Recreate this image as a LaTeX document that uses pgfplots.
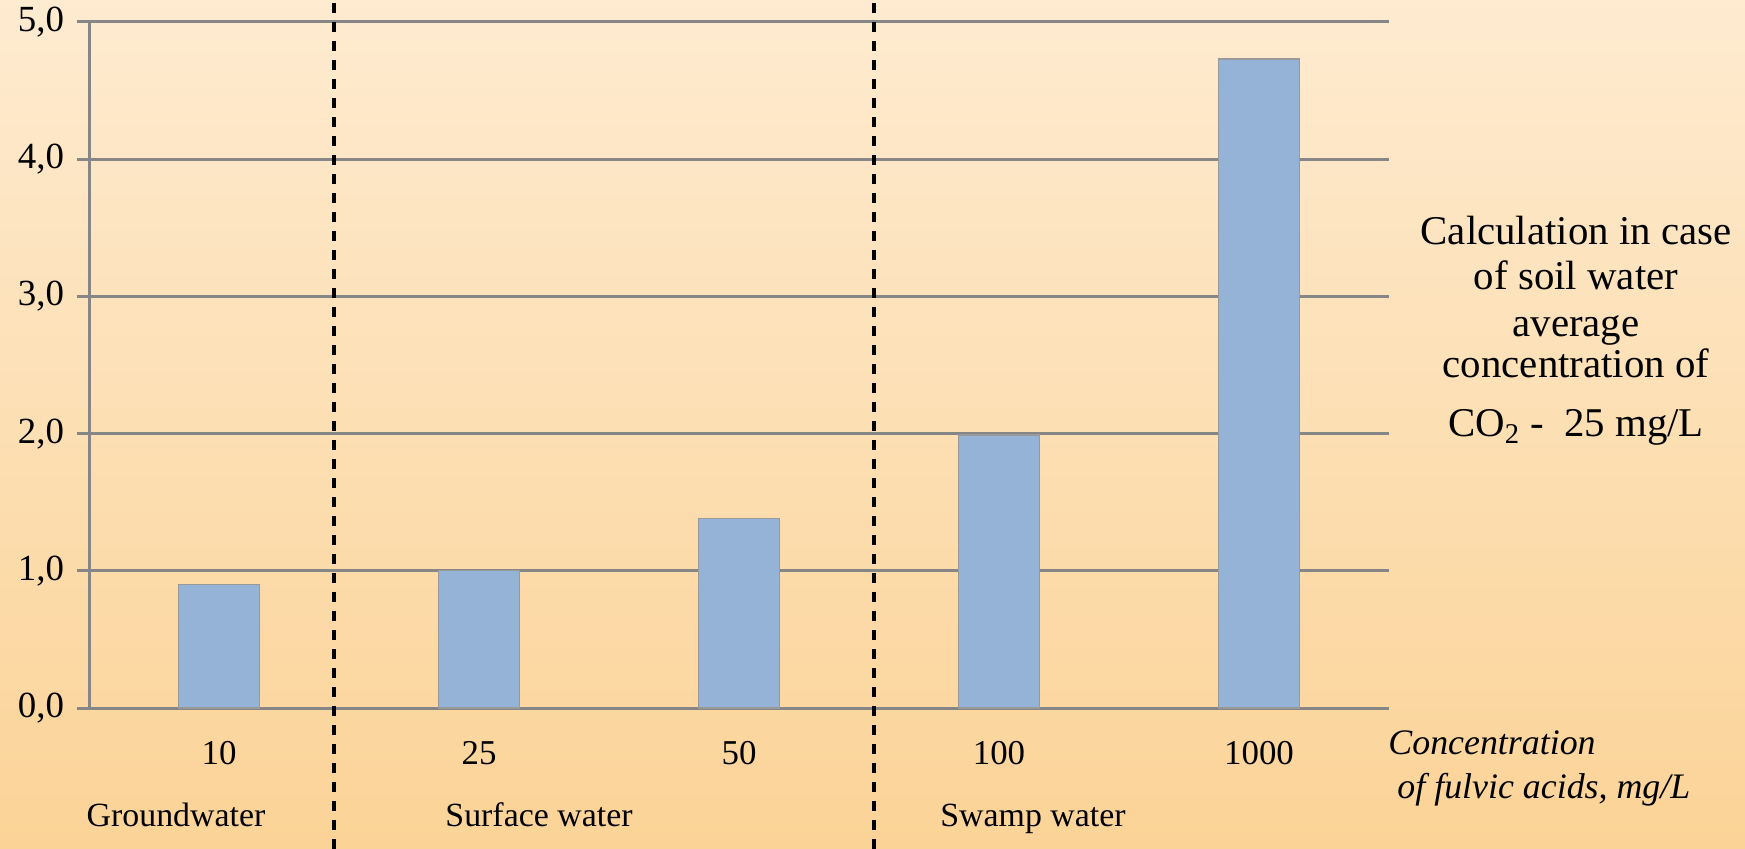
\documentclass[border=0pt]{standalone}
\usepackage{pgfplots}
\pgfplotsset{compat=1.18}
\usepackage{fontspec}
\setmainfont{Liberation Serif}

\definecolor{bgtop}{HTML}{FEEBD0}
\definecolor{bgbot}{HTML}{FBD397}
\definecolor{barblue}{HTML}{95B3D7}
\definecolor{gridgray}{HTML}{868686}

\begin{document}
\begin{tikzpicture}
% page: 1745x849 px at 0.5bp per px
\useasboundingbox (0,0) rectangle (872.5bp,424.5bp);
\shade[top color=bgtop, bottom color=bgbot] (0,0) rectangle (872.5bp,424.5bp);
\begin{axis}[
    at={(44.5bp,70.5bp)}, anchor=south west,
    scale only axis,
    width=650bp, height=343bp,
    xmin=-0.5, xmax=4.5,
    ymin=0, ymax=5,
    ytick={0,1,2,3,4,5},
    xtick=data,
    xticklabels={10,25,50,100,1000},
    axis x line=bottom, axis y line=left,
    axis line style={-, draw=gridgray, line width=1.5bp},
    ymajorgrids,
    grid style={draw=gridgray, line width=1.5bp},
    tick align=outside,
    major tick length=6bp,
    ytick style={draw=gridgray, line width=1.5bp},
    xtick style={draw=none},
    /pgf/number format/.cd, fixed, fixed zerofill, precision=1, use comma, assume math mode=true,
    /pgfplots/.cd,
    yticklabel style={font=\fontsize{18.5}{21}\selectfont, xshift=-3bp},
    xticklabel style={font=\fontsize{17.5}{20}\selectfont, yshift=-7bp},
    clip=false,
]
\addplot[ybar, bar width=40.5bp, fill=barblue, draw=gray!80, line width=0.6bp]
    coordinates {(0,0.90) (1,1.00) (2,1.38) (3,1.99) (4,4.73)};
\end{axis}
\draw[black, line width=1.6bp, dash pattern=on 5bp off 4.5bp] (167bp,0) -- (167bp,424.5bp);
\draw[black, line width=1.6bp, dash pattern=on 5bp off 4.5bp] (437bp,0) -- (437bp,424.5bp);
\begin{scope}[every node/.style={font=\fontsize{17}{20}\selectfont, inner sep=0pt, anchor=base}]
\node at (88bp,11.5bp) {Groundwater};
\node at (269.5bp,11.5bp) {Surface water};
\node at (516.5bp,11.5bp) {Swamp water};
\end{scope}
\begin{scope}[every node/.style={font=\fontsize{20.5}{23}\selectfont, inner sep=0pt, anchor=base}]
\node at (788bp,302bp) {Calculation in case};
\node at (788bp,279.5bp) {of soil water};
\node at (788bp,256bp) {average};
\node at (788bp,235.5bp) {concentration of};
\node at (788bp,206bp) {CO\textsubscript{2} -\enspace 25 mg/L};
\end{scope}
\begin{scope}[every node/.style={font=\fontsize{18}{21}\selectfont\itshape, inner sep=0pt, anchor=base west}]
\node at (694bp,47bp) {Concentration};
\node at (698.5bp,25.5bp) {of fulvic acids, mg/L};
\end{scope}
\end{tikzpicture}
\end{document}
